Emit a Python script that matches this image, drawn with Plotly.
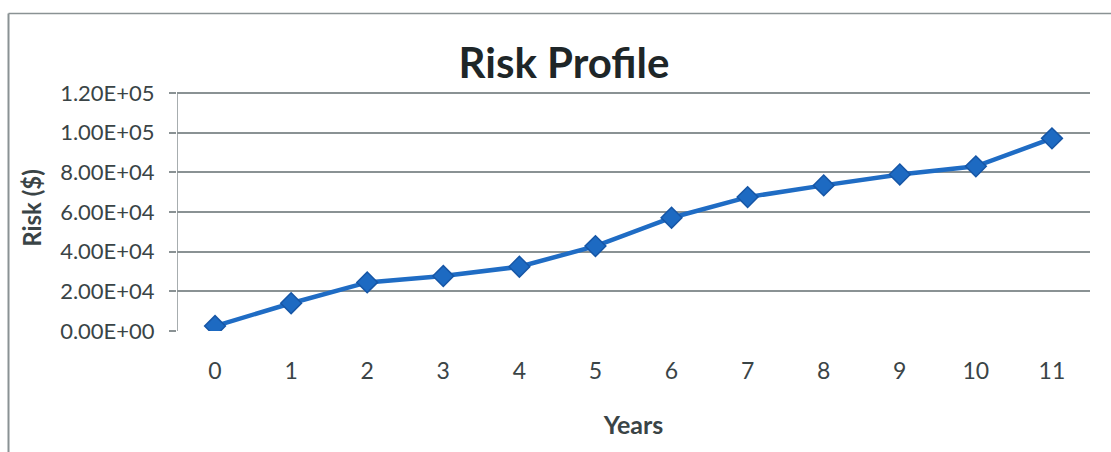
import plotly.graph_objects as go

years = list(range(12))
risk = [2500, 14000, 24500, 27700, 32400, 42800, 57100, 67500, 73400, 78900, 83000, 97100]
y_ticks = [0, 20000, 40000, 60000, 80000, 100000, 120000]
y_tick_text = ["0.00E+00", "2.00E+04", "4.00E+04", "6.00E+04", "8.00E+04", "1.00E+05", "1.20E+05"]

FONT = "Lato"
TEXT = "#3a4446"
GRID = "#8a9294"

fig = go.Figure()
fig.add_trace(go.Scatter(
    x=years, y=risk, mode="lines+markers",
    line=dict(color="#1f6cc4", width=4.5),
    marker=dict(symbol="diamond", size=16, color="#1d6ac2",
                line=dict(color="#1656a6", width=1.5)),
    showlegend=False,
))

fig.update_layout(
    width=1111, height=452,
    margin=dict(l=177, r=21, t=85, b=121),
    paper_bgcolor="white", plot_bgcolor="white",
    title=dict(text="<b>Risk Profile</b>", x=564 / 1111, xanchor="center",
               y=1 - 63 / 452, yanchor="middle",
               font=dict(family=FONT, size=42, color="#1e2628")),
    font=dict(family=FONT, color=TEXT),
)

fig.update_xaxes(
    type="linear", range=[-0.5, 11.5], tickmode="array", tickvals=years,
    ticktext=[str(v) for v in years],
    showgrid=False, zeroline=False, showline=False, ticks="",
    tickfont=dict(family=FONT, size=23, color=TEXT),
    ticklabelstandoff=24,
    title=dict(text="<b>Years</b>", font=dict(family=FONT, size=25, color=TEXT), standoff=33),
)

fig.update_yaxes(
    range=[0, 124000], tickmode="array", tickvals=y_ticks, ticktext=y_tick_text,
    showgrid=True, gridcolor=GRID, gridwidth=1.5,
    zeroline=False, showline=False, ticks="outside", ticklen=7, tickcolor=GRID, tickwidth=1.5,
    ticklabelstandoff=10,
    tickfont=dict(family=FONT, size=22, color=TEXT),
    title=dict(text="<b>Risk ($)</b>", font=dict(family=FONT, size=24, color=TEXT), standoff=11),
)

# vertical value axis line, spanning the labelled tick range
fig.add_shape(type="line", xref="x", yref="y",
              x0=-0.5, x1=-0.5, y0=y_ticks[0], y1=y_ticks[-1],
              line=dict(color=GRID, width=1.5))

# outer chart frame (top and left edges)
fig.add_shape(type="line", xref="paper", yref="paper",
              x0=(8.5 - 177) / 913, x1=(1111 - 177) / 913,
              y0=(331 - 13.5) / 246, y1=(331 - 13.5) / 246,
              line=dict(color="#8a9294", width=1.5))
fig.add_shape(type="line", xref="paper", yref="paper",
              x0=(8.5 - 177) / 913, x1=(8.5 - 177) / 913,
              y0=(331 - 13.5) / 246, y1=(331 - 452) / 246,
              line=dict(color="#8a9294", width=2))

fig.write_html("out.html")
